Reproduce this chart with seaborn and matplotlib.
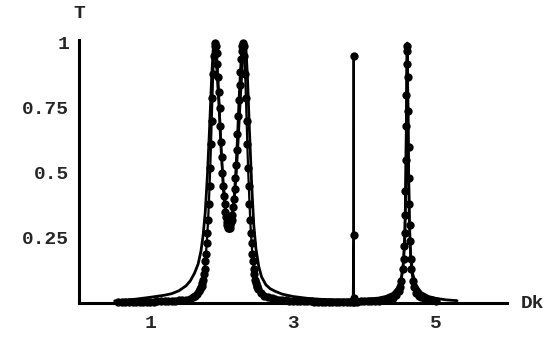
import matplotlib
matplotlib.use("Agg")
import matplotlib.pyplot as plt
import seaborn as sns
import pandas as pd

# ---- data ----
solid_x = [0.5, 0.6, 0.8, 1.0, 1.2, 1.3, 1.4, 1.5, 1.56, 1.62, 1.67, 1.71, 1.74, 1.77,
           1.80, 1.83, 1.86, 1.88, 1.89, 1.91, 1.93, 1.96, 1.99, 2.02, 2.05, 2.08, 2.11,
           2.14, 2.17, 2.20, 2.23, 2.26, 2.29, 2.31, 2.33, 2.34, 2.36, 2.39, 2.42, 2.45,
           2.48, 2.52, 2.56, 2.62, 2.68, 2.75, 2.85, 3.0, 3.2, 3.4, 3.6, 3.8, 4.0, 4.2,
           4.3, 4.4, 4.47, 4.52, 4.55, 4.57, 4.585, 4.595, 4.60, 4.605, 4.615, 4.63,
           4.65, 4.68, 4.73, 4.8, 4.9, 5.0, 5.15, 5.3]
solid_t = [0.008, 0.01, 0.015, 0.022, 0.03, 0.036, 0.047, 0.066, 0.085, 0.115, 0.15, 0.20,
           0.26, 0.35, 0.49, 0.67, 0.87, 0.97, 1.0, 0.98, 0.91, 0.77, 0.60, 0.47, 0.37,
           0.32, 0.30, 0.32, 0.38, 0.48, 0.62, 0.78, 0.92, 0.98, 1.0, 0.98, 0.88, 0.66,
           0.46, 0.30, 0.21, 0.14, 0.10, 0.07, 0.055, 0.045, 0.034, 0.025, 0.018, 0.014,
           0.012, 0.012, 0.014, 0.019, 0.025, 0.037, 0.06, 0.10, 0.16, 0.27, 0.50, 0.85,
           1.0, 0.90, 0.60, 0.32, 0.18, 0.11, 0.065, 0.04, 0.025, 0.018, 0.012, 0.009]

dotted_x = [0.55, 0.60, 0.65, 0.70, 0.75, 0.80, 0.85, 0.90, 0.95, 1.00, 1.05, 1.10, 1.15,
            1.20, 1.25, 1.30, 1.35, 1.40, 1.45, 1.50, 1.55, 1.60, 1.63, 1.66, 1.68,
            1.70, 1.71, 1.72, 1.73, 1.74, 1.75, 1.76, 1.77, 1.78, 1.79, 1.80, 1.81, 1.82,
            1.83, 1.84, 1.85, 1.86, 1.87, 1.88, 1.89, 1.90, 1.91, 1.92, 1.93, 1.94, 1.95,
            1.96, 1.97, 1.98, 1.99, 2.00, 2.01, 2.02, 2.03, 2.04, 2.05, 2.06, 2.07, 2.08,
            2.09, 2.10, 2.11, 2.12, 2.13, 2.14, 2.15, 2.16, 2.17, 2.18, 2.19, 2.20, 2.21,
            2.22, 2.23, 2.24, 2.25, 2.26, 2.27, 2.28, 2.29, 2.30, 2.31, 2.32, 2.33, 2.34,
            2.35, 2.36, 2.37, 2.38, 2.39, 2.40, 2.41, 2.42, 2.43, 2.44, 2.45, 2.46, 2.47,
            2.48, 2.49, 2.50, 2.51,
            2.55, 2.60, 2.65, 2.70, 2.75, 2.80, 2.85, 2.90, 2.95, 3.00, 3.05, 3.10, 3.15,
            3.20, 3.25, 3.30, 3.35, 3.40, 3.45, 3.50, 3.55, 3.60, 3.65, 3.70, 3.75, 3.80,
            3.84,
            3.849, 3.851, 3.853,
            3.86, 3.90, 3.95, 4.00, 4.05, 4.10, 4.15, 4.20, 4.25, 4.30, 4.35, 4.40, 4.45,
            4.48, 4.5, 4.52, 4.54, 4.55, 4.56, 4.565,
            4.57, 4.575, 4.58, 4.585, 4.59, 4.595, 4.60, 4.605, 4.61, 4.615, 4.62, 4.625,
            4.63, 4.635, 4.64, 4.65, 4.66, 4.68, 4.70, 4.73, 4.77, 4.80, 4.85, 4.90, 4.95,
            5.00]
dotted_t = [0.003, 0.003, 0.003, 0.004, 0.004, 0.004, 0.004, 0.005, 0.005, 0.005, 0.005,
            0.006, 0.006, 0.007, 0.007, 0.008, 0.009, 0.010, 0.011, 0.013, 0.017, 0.022,
            0.028, 0.036, 0.045,
            0.055, 0.06, 0.067, 0.077, 0.09, 0.11, 0.13, 0.16, 0.19, 0.23, 0.27, 0.32,
            0.38, 0.45, 0.52, 0.61, 0.70, 0.79, 0.88, 0.95, 0.99, 1.00, 0.99, 0.96, 0.92,
            0.87, 0.81, 0.75, 0.68, 0.62, 0.56, 0.50, 0.45, 0.41, 0.38, 0.35, 0.33, 0.31,
            0.30, 0.29, 0.29, 0.29, 0.30, 0.31, 0.32, 0.34, 0.37, 0.40, 0.44, 0.48, 0.53,
            0.59, 0.65, 0.72, 0.78, 0.84, 0.89, 0.94, 0.97, 0.99, 1.00, 0.99, 0.95, 0.88,
            0.79, 0.70, 0.61, 0.52, 0.45, 0.38, 0.32, 0.27, 0.23, 0.19, 0.16, 0.13, 0.11,
            0.09, 0.077, 0.067, 0.06, 0.055,
            0.04, 0.028, 0.022, 0.018, 0.015, 0.013, 0.011, 0.010, 0.009, 0.008, 0.007,
            0.007, 0.006, 0.006, 0.006, 0.005, 0.005, 0.005, 0.005, 0.005, 0.005, 0.005,
            0.005, 0.005, 0.005, 0.005,
            0.005,
            0.26, 0.95, 0.02,
            0.005, 0.005, 0.006, 0.006, 0.007, 0.007, 0.008, 0.009, 0.010, 0.012, 0.015,
            0.02, 0.03,
            0.045, 0.06, 0.085, 0.13, 0.17, 0.22, 0.27,
            0.34, 0.43, 0.55, 0.68, 0.80, 0.92, 0.99, 0.97, 0.87, 0.74, 0.60, 0.48,
            0.38, 0.30, 0.24, 0.17, 0.13, 0.085, 0.06, 0.04, 0.028, 0.023, 0.017, 0.013,
            0.011, 0.009]

x_ticks = [1, 3, 5]
y_ticks = [0.25, 0.5, 0.75, 1]
y_tick_labels = ["0.25", "0.5", "0.75", "1"]
x_label = "Dk"
y_label = "T"

solid_df = pd.DataFrame({"Dk": solid_x, "T": solid_t})
dotted_df = pd.DataFrame({"Dk": dotted_x, "T": dotted_t})

sns.set_style("white")
plt.rcParams["font.family"] = ["Liberation Mono", "DejaVu Sans Mono"]
plt.rcParams["font.weight"] = "bold"

fig = plt.figure(figsize=(5.56, 3.39), dpi=100)
ax = fig.add_axes([79 / 556, 1 - 303 / 339, 428 / 556, 263 / 339])

sns.lineplot(data=solid_df, x="Dk", y="T", ax=ax, color="black", linewidth=2.0,
             estimator=None, sort=False, clip_on=False)
sns.lineplot(data=dotted_df, x="Dk", y="T", ax=ax, color="black", linewidth=1.6,
             marker="o", markersize=6, markeredgewidth=0, estimator=None, sort=False,
             clip_on=False)

ax.set_xlim(0, 6)
ax.set_ylim(0, 1.0115)
ax.set_xticks(x_ticks)
ax.set_xticklabels([str(v) for v in x_ticks])
ax.set_yticks(y_ticks)
ax.set_yticklabels(y_tick_labels)
ax.tick_params(axis="y", direction="in", length=5, width=1.8, pad=7, labelsize=14)
ax.tick_params(axis="x", direction="in", length=3, width=1.5, pad=9, labelsize=14)
for lab in ax.get_xticklabels() + ax.get_yticklabels():
    lab.set_fontweight("bold")

for side in ["top", "right"]:
    ax.spines[side].set_visible(False)
for side in ["left", "bottom"]:
    ax.spines[side].set_linewidth(2.2)
    ax.spines[side].set_color("black")
    ax.spines[side].set_zorder(5)

ax.set_xlabel("")
ax.set_ylabel("")
fig.text(533 / 556, 1 - 303 / 339, x_label, ha="center", va="center",
         fontsize=14, fontweight="bold")
fig.text(79 / 556, 1 - 14 / 339, y_label, ha="center", va="center",
         fontsize=14, fontweight="bold")

fig.savefig("out.png", dpi=100, facecolor="white")
